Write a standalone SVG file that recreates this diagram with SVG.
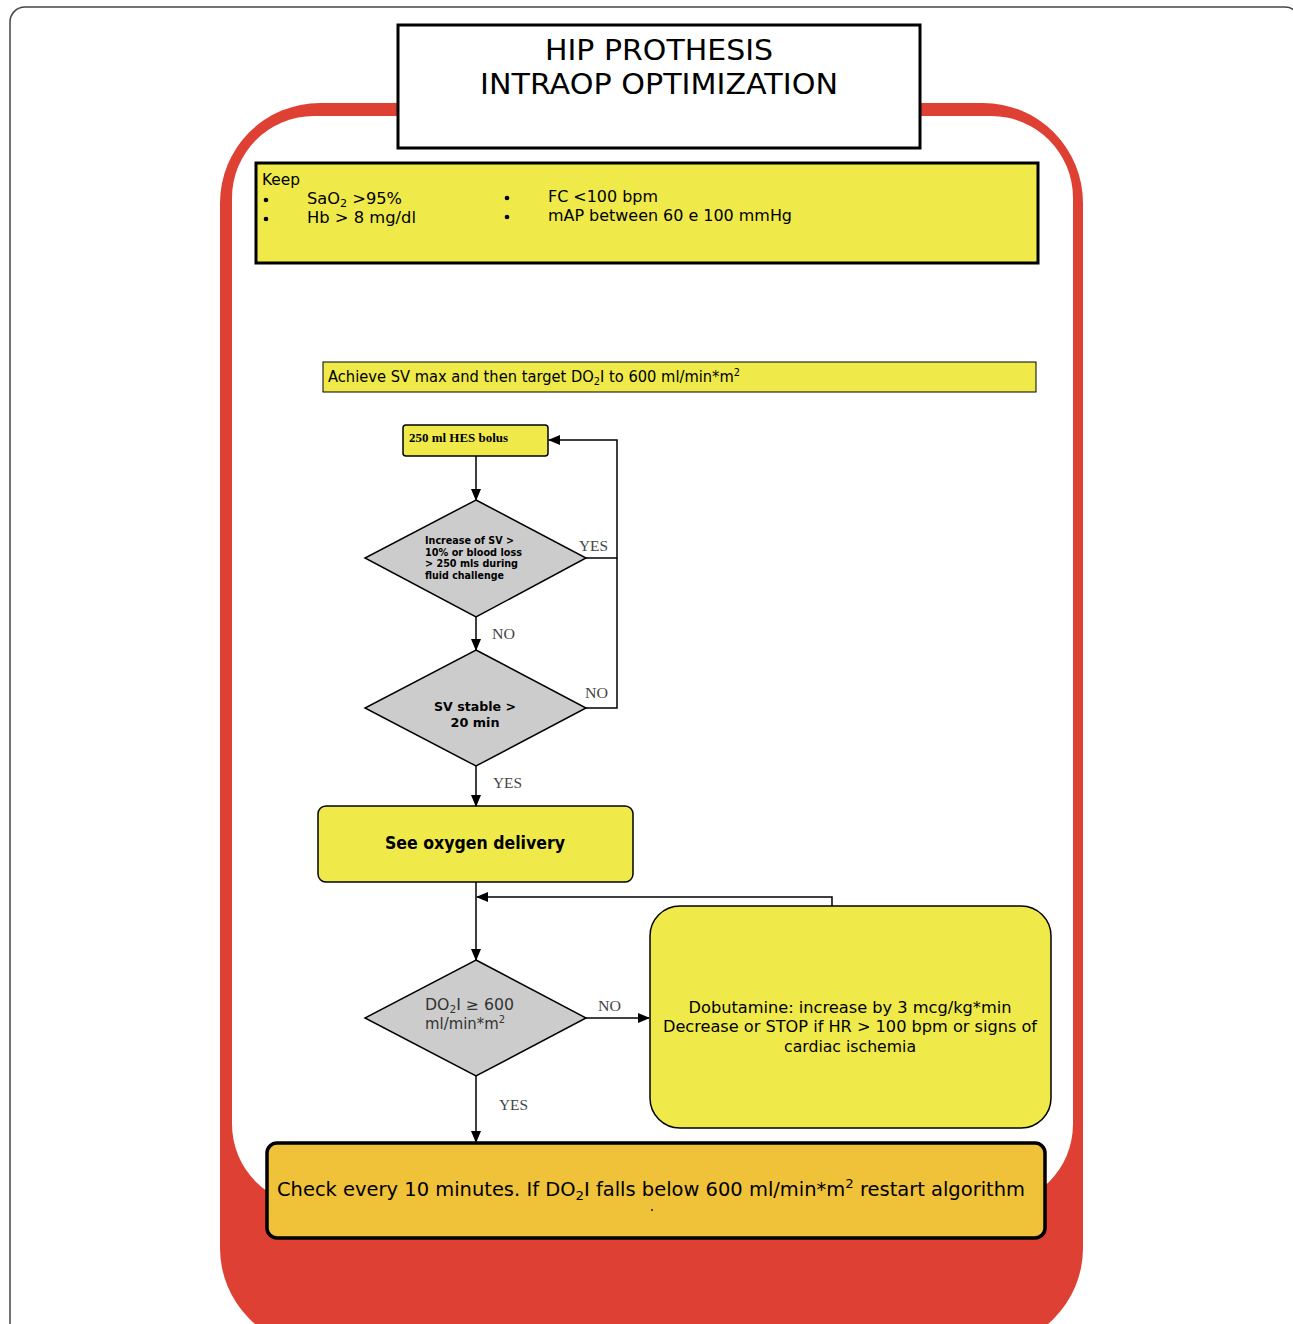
<svg xmlns="http://www.w3.org/2000/svg" width="1293" height="1324" viewBox="0 0 1293 1324">
<style>
.t{font-family:"DejaVu Sans","Verdana",sans-serif;fill:#000}
.s{font-family:"Liberation Serif","Times New Roman",serif;fill:#444;font-size:15px}
.yel{fill:#EFEA4A;stroke:#000}
.dia{fill:#CCCCCC;stroke:#000;stroke-width:1.5}
.ln{fill:none;stroke:#000;stroke-width:1.5}
</style>
<defs>
<marker id="ah" markerWidth="12" markerHeight="10" refX="11" refY="5" orient="auto" markerUnits="userSpaceOnUse">
<path d="M0,0 L12,5 L0,10 Z" fill="#000"/>
</marker>
</defs>
<rect width="1293" height="1324" fill="#fff"/>
<rect x="10" y="7" width="1290" height="1400" rx="15" fill="none" stroke="#444" stroke-width="1.5"/>
<g id="frame">
<rect x="220" y="103" width="863" height="1245" rx="100" fill="#DE4033"/>
<rect x="232" y="116" width="841" height="1090" rx="82" fill="#fff"/>
</g>
<g id="title">
<rect x="398" y="25" width="522" height="123" fill="#fff" stroke="#000" stroke-width="3"/>
<text class="t" x="659" y="60" font-size="28" text-anchor="middle" textLength="228" lengthAdjust="spacingAndGlyphs">HIP PROTHESIS</text>
<text class="t" x="659" y="94" font-size="28" text-anchor="middle" textLength="358" lengthAdjust="spacingAndGlyphs">INTRAOP OPTIMIZATION</text>
</g>
<g id="keep">
<rect class="yel" x="256" y="163" width="782" height="100" stroke-width="3"/>
<text class="t" x="262" y="185" font-size="16" textLength="38" lengthAdjust="spacingAndGlyphs">Keep</text>
<circle cx="266" cy="200" r="2.3"/>
<circle cx="266" cy="219" r="2.3"/>
<circle cx="507" cy="198" r="2.3"/>
<circle cx="507" cy="217" r="2.3"/>
<text class="t" x="307" y="204" font-size="16" textLength="95" lengthAdjust="spacingAndGlyphs">SaO<tspan font-size="11" dy="3">2</tspan><tspan dy="-3"> &gt;95%</tspan></text>
<text class="t" x="307" y="223" font-size="16" textLength="109" lengthAdjust="spacingAndGlyphs">Hb &gt; 8 mg/dl</text>
<text class="t" x="548" y="202" font-size="16" textLength="110" lengthAdjust="spacingAndGlyphs">FC &lt;100 bpm</text>
<text class="t" x="548" y="221" font-size="16" textLength="244" lengthAdjust="spacingAndGlyphs">mAP between 60 e 100 mmHg</text>
</g>
<g id="achieve">
<rect class="yel" x="323" y="362" width="713" height="30" stroke-width="1"/>
<text class="t" x="328" y="382" font-size="15" textLength="412" lengthAdjust="spacingAndGlyphs">Achieve SV max and then target DO<tspan font-size="10" dy="3">2</tspan><tspan dy="-3">I to 600 ml/min*m</tspan><tspan font-size="10" dy="-6">2</tspan></text>
</g>
<g id="connectors">
<line class="ln" x1="476" y1="456" x2="476" y2="500" marker-end="url(#ah)"/>
<polyline class="ln" points="586,558 617,558 617,440 549,440" marker-end="url(#ah)"/>
<polyline class="ln" points="586,708 617,708 617,558"/>
<line class="ln" x1="476" y1="617" x2="476" y2="650" marker-end="url(#ah)"/>
<line class="ln" x1="476" y1="766" x2="476" y2="806" marker-end="url(#ah)"/>
<line class="ln" x1="476" y1="882" x2="476" y2="960" marker-end="url(#ah)"/>
<polyline class="ln" points="832,906 832,897 477,897" marker-end="url(#ah)"/>
<line class="ln" x1="586" y1="1018" x2="649" y2="1018" marker-end="url(#ah)"/>
<line class="ln" x1="476" y1="1076" x2="476" y2="1142" marker-end="url(#ah)"/>
<text class="s" x="579" y="551" textLength="29" lengthAdjust="spacingAndGlyphs">YES</text>
<text class="s" x="492" y="639" textLength="23" lengthAdjust="spacingAndGlyphs">NO</text>
<text class="s" x="585" y="698" textLength="23" lengthAdjust="spacingAndGlyphs">NO</text>
<text class="s" x="493" y="788" textLength="29" lengthAdjust="spacingAndGlyphs">YES</text>
<text class="s" x="598" y="1011" textLength="23" lengthAdjust="spacingAndGlyphs">NO</text>
<text class="s" x="499" y="1110" textLength="29" lengthAdjust="spacingAndGlyphs">YES</text>
</g>
<g id="hes">
<rect class="yel" x="403" y="425" width="145" height="31" rx="3" stroke-width="1.5"/>
<text x="409" y="442" font-family="Liberation Serif,serif" font-weight="bold" font-size="12" textLength="99" lengthAdjust="spacingAndGlyphs">250 ml HES bolus</text>
</g>
<g id="d1">
<polygon class="dia" points="476,500 586,558 476,617 365,558"/>
<text class="t" font-size="10.5" font-weight="bold">
<tspan x="425" y="544" textLength="89" lengthAdjust="spacingAndGlyphs">Increase of SV &gt;</tspan>
<tspan x="425" y="556" textLength="97" lengthAdjust="spacingAndGlyphs">10% or blood loss</tspan>
<tspan x="425" y="567" textLength="93" lengthAdjust="spacingAndGlyphs">&gt; 250 mls during</tspan>
<tspan x="425" y="579" textLength="79" lengthAdjust="spacingAndGlyphs">fluid challenge</tspan>
</text>
</g>
<g id="d2">
<polygon class="dia" points="476,650 586,708 476,766 365,708"/>
<text class="t" x="475" y="711" font-size="13" font-weight="bold" text-anchor="middle" textLength="82" lengthAdjust="spacingAndGlyphs">SV stable &gt;</text>
<text class="t" x="475" y="727" font-size="13" font-weight="bold" text-anchor="middle" textLength="49" lengthAdjust="spacingAndGlyphs">20 min</text>
</g>
<g id="see">
<rect class="yel" x="318" y="806" width="315" height="76" rx="8" stroke-width="1.5"/>
<text class="t" x="475" y="849" font-size="17" font-weight="bold" text-anchor="middle" textLength="180" lengthAdjust="spacingAndGlyphs">See oxygen delivery</text>
</g>
<g id="d3">
<polygon class="dia" points="476,960 586,1018 476,1076 365,1018"/>
<text class="t" x="425" y="1010" font-size="15" style="fill:#333" textLength="89" lengthAdjust="spacingAndGlyphs">DO<tspan font-size="10" dy="3">2</tspan><tspan dy="-3">I ≥ 600</tspan></text>
<text class="t" x="425" y="1029" font-size="15" style="fill:#333" textLength="80" lengthAdjust="spacingAndGlyphs">ml/min*m<tspan font-size="10" dy="-6">2</tspan></text>
</g>
<g id="dobu">
<rect class="yel" x="650" y="906" width="401" height="222" rx="30" stroke-width="1.5"/>
<text class="t" x="850" y="1013" font-size="16" text-anchor="middle" textLength="323" lengthAdjust="spacingAndGlyphs">Dobutamine: increase by 3 mcg/kg*min</text>
<text class="t" x="850" y="1032" font-size="16" text-anchor="middle" textLength="374" lengthAdjust="spacingAndGlyphs">Decrease or STOP if HR &gt; 100 bpm or signs of</text>
<text class="t" x="850" y="1052" font-size="16" text-anchor="middle" textLength="132" lengthAdjust="spacingAndGlyphs">cardiac ischemia</text>
</g>
<g id="check">
<rect x="267" y="1143" width="778" height="95" rx="10" fill="#EFC23A" stroke="#000" stroke-width="3.5"/>
<text class="t" x="277" y="1196" font-size="19" textLength="748" lengthAdjust="spacingAndGlyphs">Check every 10 minutes. If DO<tspan font-size="13" dy="4">2</tspan><tspan dy="-4">I falls below 600 ml/min*m</tspan><tspan font-size="13" dy="-8">2</tspan><tspan dy="8"> restart algorithm</tspan></text>
<circle cx="652" cy="1210" r="0.9" fill="#000"/>
</g>
</svg>
